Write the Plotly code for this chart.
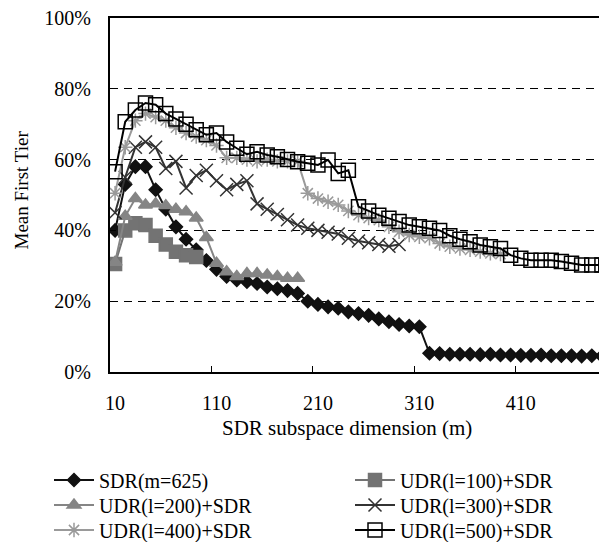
import plotly.graph_objects as go

# ---- data ----
m_all = list(range(10, 500, 10))  # SDR subspace dimension m = 10..490

sdr_m625 = [40, 53, 58, 58, 51.5, 46, 41, 37.5, 34.5, 31.5,
            29, 27, 26, 25.5, 25, 24, 23.5, 23, 22.2, 20,
            19.1, 18.4, 18, 17, 16.5, 16, 15, 14.2, 13.4, 13, 12.8,
            5.3, 5.2, 5, 5, 5, 4.9, 5, 4.8, 4.8, 4.7, 4.7, 4.8, 4.6, 4.6, 4.6, 4.5, 4.6, 4.5]

udr100 = [30.5, 40, 42, 41.5, 38.5, 36, 34, 33, 32.5]

udr200 = [31, 44, 49, 47.2, 47.5, 47, 46, 45.3, 43.5, 38,
          30.7, 28.3, 27, 27.8, 27.8, 27.4, 27, 26.5, 26.5]

udr300 = [45, 55, 63.5, 65, 63.5, 57.5, 59.5, 52, 55.5, 57,
          54, 51.5, 53, 54, 47.5, 46, 44.5, 43, 41.5, 40.6,
          40, 39.5, 39, 37.8, 37, 36.5, 36, 35.5, 36]

udr400 = [50.5, 63.5, 71, 73, 72, 71, 69, 67.5, 66.5, 65.5,
          64, 60.5, 60.5, 60, 59.5, 60, 59.5, 59.5, 59.5,
          50.5, 49, 48.1, 47.2, 45.5, 44.3, 43.5, 42.9, 41, 39.6,
          38.7, 38.2, 37.8, 36.3, 35.4, 34.9, 34.5, 34, 33.5, 33.3]

udr500 = [56.6, 70.7, 74, 76, 75.5, 73, 71.5, 70, 68.4, 67,
          67.5, 65, 63.2, 61.5, 62.2, 61.3, 60.8, 60, 59.4, 59,
          58.5, 59.9, 56.1, 57, 46.7, 45.5, 44.3, 43.4, 42.5, 41.5,
          41, 40.6, 40, 38.5, 37.5, 36.8, 35.9, 35.4, 34.9, 33,
          32.1, 31.6, 31.6, 31.6, 31.2, 30.7, 30.2, 30.2, 30.2]

x_tick_vals = [10, 110, 210, 310, 410]
x_tick_text = ["10", "110", "210", "310", "410"]
x_tick_marks = [105, 205, 305, 405]
y_tick_vals = [0, 20, 40, 60, 80, 100]
y_tick_text = ["0%", "20%", "40%", "60%", "80%", "100%"]

FONT = "Liberation Serif"

# page body has an 8px margin: figure coordinates = window coordinates - 8
FW, FH = 599, 534
L, T, W, H = 102, 10, 497, 354

def px_x(p):  # figure pixel -> paper x
    return (p - L) / W

def px_y(p):  # figure pixel -> paper y
    return (T + H - p) / H

fig = go.Figure()

# legend slots: (left edge of legend box, row centre) in figure pixels
slots = {
    "legend":  (41, 472), "legend2": (342, 472),
    "legend3": (41, 497), "legend4": (342, 497),
    "legend5": (41, 522), "legend6": (342, 522),
}

def add(name, y, color, symbol, size, legend, lw=2):
    fig.add_trace(go.Scatter(
        x=m_all[:len(y)], y=y, name=name, mode="lines+markers",
        line=dict(color=color, width=lw),
        marker=dict(symbol=symbol, size=size, color=color,
                    line=dict(color=color, width=1.5)),
        legend=legend,
    ))

add("SDR(m=625)", sdr_m625, "#111111", "diamond", 10, "legend")
add("UDR(l=100)+SDR", udr100, "#737373", "square", 13, "legend2")
add("UDR(l=200)+SDR", udr200, "#858585", "triangle-up", 12, "legend3")
add("UDR(l=300)+SDR", udr300, "#333333", "x-thin-open", 13, "legend4")
add("UDR(l=400)+SDR", udr400, "#9a9a9a", "asterisk-open", 12, "legend5")
add("UDR(l=500)+SDR", udr500, "#000000", "square-open", 14, "legend6")

legends = {}
for key, (lx, ly) in slots.items():
    legends[key] = dict(x=px_x(lx), y=px_y(ly), xanchor="left", yanchor="middle",
                        bgcolor="rgba(0,0,0,0)", font=dict(family=FONT, size=20),
                        itemwidth=40, borderwidth=0)

fig.update_layout(
    width=FW, height=FH,
    margin=dict(l=L, r=FW - L - W, t=T, b=FH - T - H, autoexpand=False),
    paper_bgcolor="white", plot_bgcolor="white",
    font=dict(family=FONT, size=20, color="#000000"),
    showlegend=True,
    **legends,
    xaxis=dict(range=[5, 495], tickmode="array", tickvals=x_tick_vals, ticktext=x_tick_text,
               ticks="", showgrid=False, zeroline=False,
               showline=True, linecolor="#000000", linewidth=2, mirror=True,
               ticklabelstandoff=12, ticklabeloverflow="allow",
               minor=dict(tickmode="array", tickvals=x_tick_marks, ticks="inside",
                          ticklen=6, tickwidth=1, tickcolor="#000000", showgrid=False),
               tickfont=dict(family=FONT, size=20)),
    yaxis=dict(range=[0, 100], tickmode="array", tickvals=y_tick_vals, ticktext=y_tick_text,
               ticks="inside", ticklen=6, tickwidth=1, tickcolor="#000000",
               showgrid=True, gridcolor="#000000", gridwidth=1, griddash="8px,6px",
               zeroline=False, showline=True, linecolor="#000000", linewidth=2,
               ticklabelstandoff=13, ticklabeloverflow="allow",
               tickfont=dict(family=FONT, size=20)),
    annotations=[
        dict(text="SDR subspace dimension (m)", xref="paper", yref="paper",
             x=px_x(339), y=px_y(420), xanchor="center", yanchor="middle",
             showarrow=False, font=dict(family=FONT, size=21)),
        dict(text="Mean First Tier", xref="paper", yref="paper",
             x=px_x(12.5), y=px_y(182), xanchor="center", yanchor="middle",
             textangle=-90, showarrow=False, font=dict(family=FONT, size=19)),
    ],
)

fig.write_html("out.html")
